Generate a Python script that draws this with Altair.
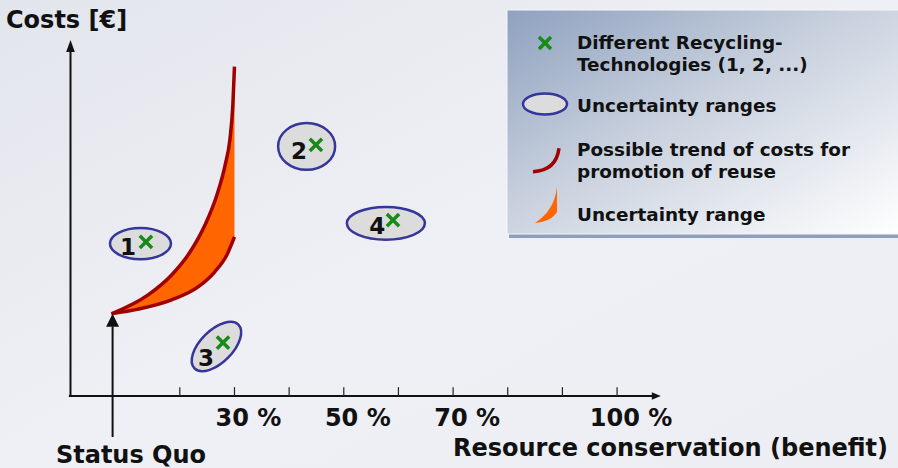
import altair as alt
import pandas as pd

# ---------------- data ----------------
tech_ids = ["1", "2", "3", "4"]
tech_benefit = [13.8, 44.9, 27.9, 59.0]          # resource conservation, %
tech_cost = [43.3, 70.5, 15.0, 49.4]             # costs, arbitrary units
range_benefit = [12.8, 43.2, 26.7, 57.7]         # centre of uncertainty range
range_cost = [42.8, 70.1, 13.9, 48.5]
id_benefit = [10.5, 41.8, 24.8, 56.1]            # where the number sits
id_cost = [39.6, 66.6, 8.4, 45.5]

trend_upper_benefit = [7.5, 14.2, 18.5, 21.9, 24.6, 26.8, 28.3, 29.2, 29.7, 30.0]
trend_upper_cost = [23.1, 28.4, 34.0, 40.5, 48.0, 56.5, 64.9, 72.5, 81.7, 92.5]
trend_lower_at_upper = [23.1, 25.0, 27.0, 29.6, 32.4, 35.5, 38.9, 41.3, 43.2, 44.7]
trend_lower_benefit = [7.5, 12.4, 18.5, 23.4, 26.4, 28.6, 30.0]
trend_lower_cost = [23.1, 24.4, 27.0, 30.7, 34.9, 39.6, 44.7]

status_quo_benefit = 7.7
status_quo_cost = 23.1

tick_values = [20, 30, 40, 50, 60, 70, 80, 90, 100]
label_values = [30, 50, 70, 100]
label_texts = ["30 %", "50 %", "70 %", "100 %"]

legend_texts = [
    "Different Recycling-\nTechnologies (1, 2, ...)",
    "Uncertainty ranges",
    "Possible trend of costs for\npromotion of reuse",
    "Uncertainty range",
]

# ---------------- styles / layout ----------------
FONT = "DejaVu Sans"
W, H = 898, 468
X_DOMAIN = [-12.9, 151.4]
Y_DOMAIN = [-20.2, 111.2]
LEGEND_Y = [43, 106, 150, 215]    # px, first line of each legend entry
ELL_W = [61, 57, 62, 78]          # px
ELL_RATIO = [0.51, 0.82, 0.52, 0.42]
ELL_ANGLE = [0, 0, 315, 0]
GREEN = "#178a17"
NAVY = "#35359a"
DARKRED = "#a00000"
ORANGE = "#ff6600"
INK = "#111111"
X_PATH = "M-1,-1L1,1M-1,1L1,-1"


def ellipse_path(r):
    k = 0.5523
    return (f"M1,0 C1,{k*r:.4f} {k:.4f},{r:.4f} 0,{r:.4f} "
            f"C{-k:.4f},{r:.4f} -1,{k*r:.4f} -1,0 "
            f"C-1,{-k*r:.4f} {-k:.4f},{-r:.4f} 0,{-r:.4f} "
            f"C{k:.4f},{-r:.4f} 1,{-k*r:.4f} 1,0 Z")


xs = alt.Scale(domain=X_DOMAIN, nice=False, zero=False)
ys = alt.Scale(domain=Y_DOMAIN, nice=False, zero=False)
X = lambda f: alt.X(f, type="quantitative", scale=xs, axis=None)
Y = lambda f: alt.Y(f, type="quantitative", scale=ys, axis=None)

one = pd.DataFrame({"d": [0]})

# background gradient
bg = alt.Chart(one).mark_rect(
    fill=alt.Gradient(gradient="linear", x1=0, y1=0, x2=1, y2=1,
                      stops=[alt.GradientStop(color="#e2e5ec", offset=0),
                             alt.GradientStop(color="#eff0f5", offset=0.5),
                             alt.GradientStop(color="#eceef3", offset=1)])
).encode(x=alt.value(0), x2=alt.value(W), y=alt.value(0), y2=alt.value(H))

# legend box + shadow
leg_shadow = alt.Chart(one).mark_rect(fill="#8e9fbd").encode(
    x=alt.value(509), x2=alt.value(W), y=alt.value(233), y2=alt.value(238))
leg_box = alt.Chart(one).mark_rect(
    fill=alt.Gradient(gradient="linear", x1=0, y1=0, x2=1, y2=1,
                      stops=[alt.GradientStop(color="#8ea1bf", offset=0),
                             alt.GradientStop(color="#c9d1de", offset=0.45),
                             alt.GradientStop(color="#ffffff", offset=1)]),
    stroke="#f4f6fa", strokeWidth=1
).encode(x=alt.value(507), x2=alt.value(W + 2), y=alt.value(10), y2=alt.value(234))

leg_df = pd.DataFrame({"t": legend_texts, "ly": LEGEND_Y})
leg_text = alt.Chart(leg_df).mark_text(
    align="left", baseline="middle", font=FONT, fontWeight="bold",
    fontSize=18.4, lineBreak="\n", lineHeight=22, color=INK
).encode(x=alt.value(577), y=alt.Y("ly:Q", scale=None), text="t:N")

leg_x = alt.Chart(one).mark_point(
    shape=X_PATH, filled=False, stroke=GREEN, strokeWidth=3.5, size=144, opacity=1
).encode(x=alt.value(545), y=alt.value(43))
leg_ell = alt.Chart(one).mark_point(
    shape=ellipse_path(0.48), filled=True, fill="#dcdcdc", stroke=NAVY,
    strokeWidth=2.5, size=44 * 44, opacity=1
).encode(x=alt.value(545), y=alt.value(104))
leg_arc = alt.Chart(one).mark_point(
    shape="M-1,0.9 C0.1,0.85 0.85,0.3 1,-0.9", filled=False, stroke=DARKRED,
    strokeWidth=3.5, size=26 * 26, opacity=1
).encode(x=alt.value(546), y=alt.value(160))
leg_orange = alt.Chart(one).mark_point(
    shape="M0.61,-1 L0.61,0.39 C0.4,0.75 0,0.95 -0.61,1 C0,0.6 0.5,0 0.61,-1 Z",
    filled=True, fill=ORANGE, strokeWidth=0, size=36 * 36, opacity=1
).encode(x=alt.value(546), y=alt.value(205))

# axes
axes_df = pd.DataFrame({
    "b": [0, -0.3, status_quo_benefit],
    "b2": [0, 106.5, status_quo_benefit],
    "c": [0, 0, -11.5],
    "c2": [96.8, 0, 19.6],
})
axes = alt.Chart(axes_df).mark_rule(color=INK, strokeWidth=2).encode(
    x=X("b"), x2="b2", y=Y("c"), y2="c2")

heads_df = pd.DataFrame({
    "b": [0, 108.0, status_quo_benefit],
    "c": [100, 0, status_quo_cost],
    "shape": ["M0,0 L0.36,1 L-0.36,1 Z", "M0,0 L-1,0.42 L-1,-0.42 Z",
              "M0,0 L0.5,1 L-0.5,1 Z"],
    "sz": [24 * 24, 18 * 18, 26 * 26],
})
heads = alt.Chart(heads_df).mark_point(filled=True, color=INK, opacity=1).encode(
    x=X("b"), y=Y("c"), shape=alt.Shape("shape:N", scale=None, legend=None),
    size=alt.Size("sz:Q", scale=None, legend=None))

ticks_df = pd.DataFrame({"b": tick_values, "c": 0, "c2": 2.5})
ticks = alt.Chart(ticks_df).mark_rule(color="#222222", strokeWidth=1.2).encode(
    x=X("b"), y=Y("c"), y2="c2")

labels_df = pd.DataFrame({"b": label_values, "t": label_texts})
tick_labels = alt.Chart(labels_df).mark_text(
    font=FONT, fontWeight="bold", fontSize=24, baseline="alphabetic",
    align="center", dx=14, color=INK
).encode(x=X("b"), y=alt.value(426), text="t:N")

titles_df = pd.DataFrame({
    "t": ["Costs [€]", "Status Quo", "Resource conservation (benefit)"],
})
t_cost = alt.Chart(titles_df.iloc[[0]]).mark_text(
    font=FONT, fontWeight="bold", fontSize=24, align="left", baseline="alphabetic",
    color=INK).encode(x=alt.value(6), y=alt.value(28), text="t:N")
t_sq = alt.Chart(titles_df.iloc[[1]]).mark_text(
    font=FONT, fontWeight="bold", fontSize=24, align="center", baseline="alphabetic",
    color=INK).encode(x=alt.value(131), y=alt.value(463), text="t:N")
t_res = alt.Chart(titles_df.iloc[[2]]).mark_text(
    font=FONT, fontWeight="bold", fontSize=24, align="right", baseline="alphabetic",
    color=INK).encode(x=alt.value(888), y=alt.value(456), text="t:N")

# trend area and lines
up_df = pd.DataFrame({"b": trend_upper_benefit, "c": trend_upper_cost,
                      "c2": trend_lower_at_upper})
lo_df = pd.DataFrame({"b": trend_lower_benefit, "c": trend_lower_cost})
band = alt.Chart(up_df).mark_area(color=ORANGE, opacity=1, interpolate="monotone").encode(
    x=X("b"), y=Y("c"), y2="c2")
upper = alt.Chart(up_df).mark_line(color=DARKRED, strokeWidth=3.5, interpolate="monotone").encode(
    x=X("b"), y=Y("c"))
lower = alt.Chart(lo_df).mark_line(color=DARKRED, strokeWidth=3.5, interpolate="monotone").encode(
    x=X("b"), y=Y("c"))

# technologies
ell_df = pd.DataFrame({
    "b": range_benefit, "c": range_cost,
    "path": [ellipse_path(r) for r in ELL_RATIO],
    "sz": [w * w for w in ELL_W], "ang": ELL_ANGLE,
})
ellipses = alt.Chart(ell_df).mark_point(
    filled=True, fill="#dcdcdc", stroke=NAVY, strokeWidth=2.5, opacity=1
).encode(x=X("b"), y=Y("c"),
         shape=alt.Shape("path:N", scale=None, legend=None),
         size=alt.Size("sz:Q", scale=None, legend=None),
         angle=alt.Angle("ang:Q", scale=None))

id_df = pd.DataFrame({"b": id_benefit, "c": id_cost, "t": tech_ids})
ids = alt.Chart(id_df).mark_text(
    font=FONT, fontWeight="bold", fontSize=23, baseline="alphabetic",
    align="center", color=INK).encode(x=X("b"), y=Y("c"), text="t:N")

tech_df = pd.DataFrame({"b": tech_benefit, "c": tech_cost, "id": tech_ids})
crosses = alt.Chart(tech_df).mark_point(
    shape=X_PATH, filled=False, stroke=GREEN, strokeWidth=3.5, size=150, opacity=1
).encode(x=X("b"), y=Y("c"))

chart = alt.layer(
    bg, leg_shadow, leg_box, leg_text, leg_x, leg_ell, leg_arc, leg_orange,
    band, upper, lower, axes, heads, ticks, tick_labels, t_cost, t_sq, t_res,
    ellipses, ids, crosses,
).properties(
    width=W, height=H,
    autosize=alt.AutoSizeParams(type="none"),
    padding={"left": 0, "top": 0, "right": 0, "bottom": 0},
    background="#eceef3",
).configure_view(stroke=None)

chart.save("out.html", embed_options={"renderer": "svg", "actions": False})
